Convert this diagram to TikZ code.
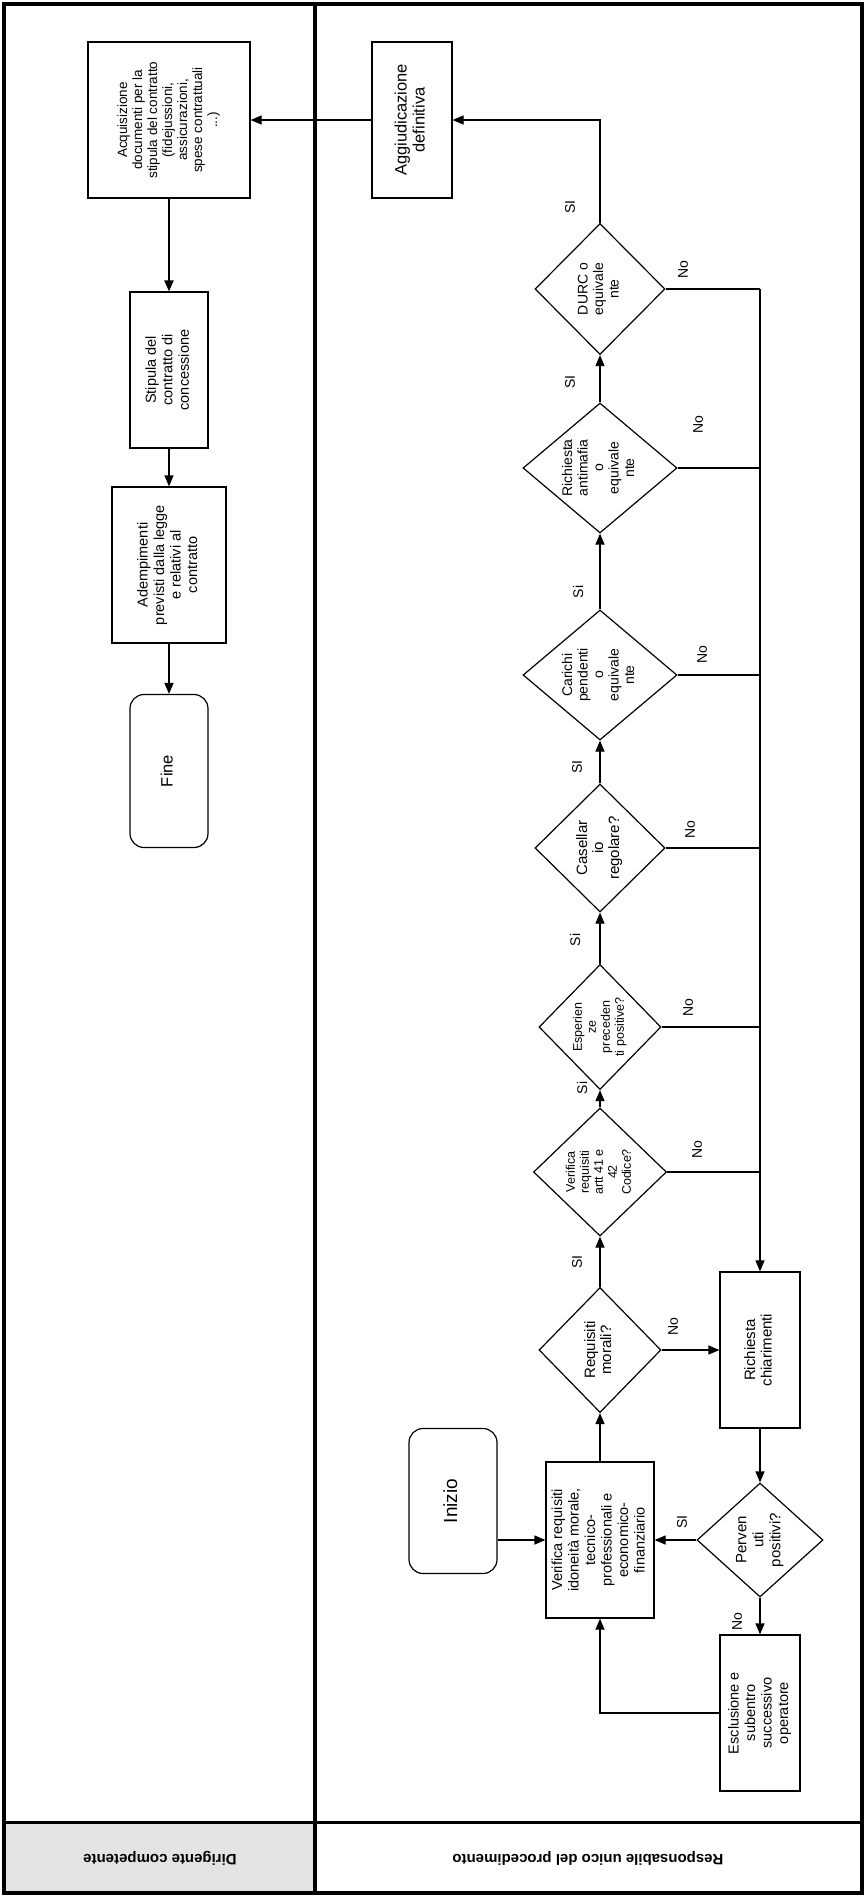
\documentclass[tikz,border=0pt]{standalone}
\usepackage{fontspec}
\setmainfont{Liberation Sans}
\usepackage{graphicx}
\usetikzlibrary{shapes.geometric,arrows.meta}

\newcommand{\vtxt}[1]{\rotatebox{90}{\begin{tabular}{@{}c@{}}#1\end{tabular}}}

\begin{document}
\begin{tikzpicture}[x=1pt, y=1pt, line width=1.2pt,
        >={Triangle[length=11pt,width=9pt]},
        box/.style={draw, rectangle, minimum width=80pt, minimum height=156pt, inner sep=2pt, font=\fontsize{14.5}{16.5}\selectfont},
        term/.style={box, rounded corners=14pt},
        dec/.style={draw, diamond, inner sep=0pt},
        dtxt/.style={inner sep=0pt, font=\fontsize{14}{15.5}\selectfont},
        lbl/.style={rotate=90, inner sep=0pt, font=\fontsize{14}{16}\selectfont}]
        \useasboundingbox (0,0) rectangle (866,-1899);

        % Draw the lanes
        \fill[gray!22] (4,-1822) rectangle (315,-1893);
        \draw[line width=3.5pt] (4,-4) rectangle (862,-1893);
        \draw[line width=3.5pt] (315,-4) -- (315,-1893);
        \draw[line width=3pt] (4,-1822) -- (862,-1822);
        \node[rotate=180, font=\bfseries\fontsize{15}{17}\selectfont] (dirlab) at (160,-1858) {Dirigente competente};
        \node[rotate=180, font=\bfseries\fontsize{15}{17}\selectfont] (ruplab) at (588,-1858) {Responsabile unico del procedimento};

        % Draw the steps of the Dirigente
        \node[box, minimum width=162pt, font=\fontsize{13.5}{15}\selectfont] (acq) at (169,-120) {\vtxt{Acquisizione\\documenti per la\\stipula del contratto\\(fidejussioni,\\assicurazioni,\\spese contrattuali\\...)}};
        \node[box, minimum width=78pt] (sti) at (169,-370) {\vtxt{Stipula del\\contratto di\\concessione}};
        \node[box, minimum width=114pt] (ade) at (169,-565) {\vtxt{Adempimenti\\previsti dalla legge\\e relativi al\\contratto}};
        \node[term, minimum width=78pt, minimum height=153pt, font=\fontsize{16.5}{18}\selectfont] (fine) at (169,-771) {\vtxt{Fine}};

        \draw[->, line width=2pt] (acq) -- (sti);
        \draw[->] (sti) -- (ade);
        \draw[->, line width=1.6pt] (ade) -- (fine);

        % Draw the start and the first check
        \node[term, minimum width=88pt, minimum height=145pt, font=\fontsize{19}{21}\selectfont] (ini) at (453,-1501) {\vtxt{Inizio}};
        \node[box, minimum width=108pt] (ver) at (600,-1540) {\vtxt{Verifica requisiti\\idoneità morale,\\tecnico-\\professionali e\\economico-\\finanziario}};
        \draw[->] (ini.east |- ver) -- (ver);

        % Draw the chain of checks
        \node[dec, minimum width=122pt, minimum height=125pt, label={[dtxt, font=\fontsize{15}{16}\selectfont]center:{\vtxt{Requisiti\\morali?}}}] (req) at (600,-1350) {};
        \node[dec, minimum width=133pt, minimum height=128pt, label={[dtxt, font=\fontsize{12.5}{14}\selectfont]center:{\vtxt{Verifica\\requisiti\\artt 41 e\\42\\Codice?}}}] (vart) at (600,-1172) {};
        \node[dec, minimum width=122pt, minimum height=125pt, label={[dtxt, font=\fontsize{12.5}{14}\selectfont]center:{\vtxt{Esperien\\ze\\preceden\\ti positive?}}}] (esp) at (600,-1027) {};
        \node[dec, minimum width=130pt, minimum height=128pt, label={[dtxt, font=\fontsize{15}{16}\selectfont]center:{\vtxt{Casellar\\io\\regolare?}}}] (cas) at (600,-848) {};
        \node[dec, minimum width=154pt, minimum height=130pt, label={[dtxt]center:{\vtxt{Carichi\\pendenti\\o\\equivale\\nte}}}] (car) at (600,-675) {};
        \node[dec, minimum width=154pt, minimum height=130pt, label={[dtxt]center:{\vtxt{Richiesta\\antimafia\\o\\equivale\\nte}}}] (anti) at (600,-468) {};
        \node[dec, minimum width=130pt, minimum height=131pt, label={[dtxt]center:{\vtxt{DURC o\\equivale\\nte}}}] (durc) at (600,-289) {};
        \node[box, font=\fontsize{16.5}{18}\selectfont] (agg) at (412,-120) {\vtxt{Aggiudicazione\\definitiva}};

        \draw[->] (ver) -- (req);
        \draw[->] (req) -- (vart);
        \draw[->] (vart) -- (esp);
        \draw[->] (esp) -- (cas);
        \draw[->] (cas) -- (car);
        \draw[->] (car) -- (anti);
        \draw[->] (anti) -- (durc);
        \draw[->] (durc) |- (agg);
        \draw[->] (agg) -- (acq);

        \node[lbl] (req-si) at (577,-1262) {SI};
        \node[lbl] (vart-si) at (582,-1088) {Si};
        \node[lbl] (esp-si) at (575,-940) {Si};
        \node[lbl] (cas-si) at (577,-767) {SI};
        \node[lbl] (car-si) at (578,-592) {Si};
        \node[lbl] (anti-si) at (570,-382) {SI};
        \node[lbl] (durc-si) at (570,-207) {SI};

        % Draw the clarification loop
        \node[box, font=\fontsize{15}{16.5}\selectfont] (chi) at (760,-1350) {\vtxt{Richiesta\\chiarimenti}};
        \node[dec, minimum width=126pt, minimum height=114pt, label={[dtxt, font=\fontsize{15}{17}\selectfont]center:{\vtxt{Perven\\uti\\positivi?}}}] (per) at (760,-1540) {};
        \node[box] (esc) at (760,-1713) {\vtxt{Esclusione e\\subentro\\successivo\\operatore}};

        \coordinate (notop) at (chi |- durc);
        \draw (durc) -- (notop);
        \draw (anti) -- (anti -| chi);
        \draw (car) -- (car -| chi);
        \draw (cas) -- (cas -| chi);
        \draw (esp) -- (esp -| chi);
        \draw (vart) -- (vart -| chi);
        \draw[->] (notop) -- (chi);
        \draw[->] (req) -- (chi);
        \draw[->] (chi) -- (per);
        \draw[->] (per) -- (ver);
        \draw[->] (per) -- (esc);
        \draw[->] (esc) -| (ver);

        \node[lbl] (durc-no) at (683,-270) {No};
        \node[lbl] (anti-no) at (698,-425) {No};
        \node[lbl] (car-no) at (702,-655) {No};
        \node[lbl] (cas-no) at (690,-830) {No};
        \node[lbl] (esp-no) at (688,-1008) {No};
        \node[lbl] (vart-no) at (697,-1150) {No};
        \node[lbl] (req-no) at (673,-1327) {No};
        \node[lbl] (per-si) at (682,-1522) {SI};
        \node[lbl] (per-no) at (737,-1622) {No};
    \end{tikzpicture}
\end{document}
